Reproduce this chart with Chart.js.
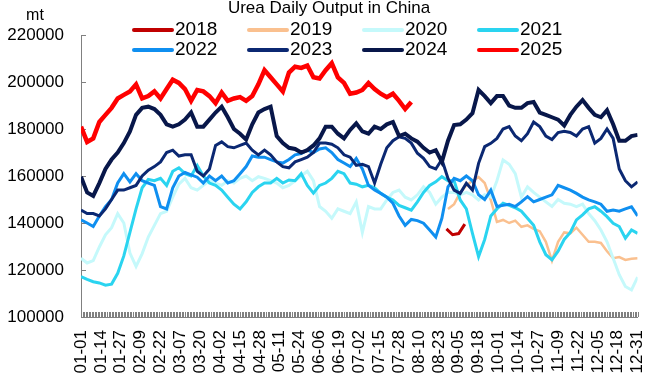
<!DOCTYPE html>
<html>
<head>
<meta charset="utf-8">
<title>Urea Daily Output in China</title>
<script src="https://cdn.jsdelivr.net/npm/chart.js@4.4.1/dist/chart.umd.min.js"></script>
<style>
  html, body { margin: 0; padding: 0; background: #fff; }
</style>
</head>
<body>
<canvas id="myChart" width="671" height="384"></canvas>
<script>
// ticks
const xTickLabels = ['01-01', '01-14', '01-27', '02-09', '02-22', '03-07', '03-20', '04-02', '04-15', '04-28',
  '05-11', '05-24', '06-06', '06-19', '07-02', '07-15', '07-28', '08-10', '08-23', '09-05', '09-18',
  '10-01', '10-14', '10-27', '11-09', '11-22', '12-05', '12-18', '12-31'];
const tickEvery = 13;   // days between x labels
const yTicks = [100000, 120000, 140000, 160000, 180000, 200000, 220000];
const unit = 'mt';

// series: one value every 4 days, starting at startDay (day 0 = 01-01)
const years = ['2018', '2019', '2020', '2021', '2022', '2023', '2024', '2025'];
const stepDays = 4;
const startDays = [239, 240, 0, 0, 0, 0, 0, 0];

const output2018 = [137500, 135000, 135500, 139500];

const output2019 = [146000, 148000, 153000, 156000, 158000, 159500, 157000, 149800,
  140500, 141300, 140000, 141000, 138400, 139000, 137500, 136500,
  132000, 124000, 132000, 136000, 135600, 138000, 135000, 132000,
  132000, 131500, 128000, 125000, 125500, 124300, 124800, 125000];

const output2020 = [125000, 123000, 124000, 129800, 135000, 138000, 144000, 140000, 127200, 121500,
  127000, 134000, 139000, 144000, 145000, 151000, 156500, 159000, 155000, 154000,
  156000, 158000, 157000, 156000, 158000, 157000, 159000, 160000, 158000, 159700,
  159000, 158000, 157000, 155000, 156000, 158000, 160000, 162000, 158000, 147000,
  145000, 142000, 146000, 145000, 144000, 149000, 136000, 147000, 146000, 146000,
  149800, 153000, 154000, 151000, 149800, 152000, 155400, 153000, 148000, 151000,
  153000, 153000, 152000, 153000, 152000, 149800, 152000, 151000, 158000, 166800,
  165000, 161000, 151000, 155400, 153000, 151000, 149000, 147000, 150000, 148400,
  148000, 147000, 148000, 144000, 141000, 137000, 132000, 125000, 118000, 113000,
  111500, 117000];

const output2021 = [117200, 116000, 115000, 114500, 113500, 114000, 118600, 126000, 136000, 146000,
  155000, 158500, 158000, 159000, 156000, 162000, 163500, 161000, 160000, 164500,
  160000, 157000, 156000, 154000, 151000, 148000, 146000, 149000, 153000, 155400,
  157000, 157000, 159000, 157000, 158300, 158000, 161000, 156000, 152700, 156000,
  157000, 159000, 162000, 161000, 157000, 156500, 155400, 156000, 155000, 152600,
  151000, 149800, 147500, 146500, 145500, 149000, 153000, 156000, 157500, 159700,
  158000, 158000, 149800, 146000, 135600, 125700, 133000, 143000, 146000, 148400,
  147500, 146500, 145000, 142000, 139000, 132000, 126500, 124300, 128000, 133000,
  136000, 141300, 143500, 146000, 146900, 145000, 142700, 139900, 138500, 133500,
  137000, 135600];

const output2022 = [141300, 140000, 138500, 143000, 147000, 150000, 157000, 161000, 157500, 161000,
  158000, 157000, 156000, 147000, 146000, 155000, 160000, 161500, 160500, 159500,
  157000, 160000, 158000, 160000, 157000, 158000, 161000, 164000, 168500, 168000,
  168000, 167000, 166000, 165500, 167000, 169000, 169500, 171000, 170000, 171500,
  172000, 170000, 167000, 165500, 164000, 167500, 163000, 156000, 154000, 152600,
  151000, 148400, 143000, 139000, 141500, 141000, 139900, 137000, 134000, 142000,
  155400, 159000, 158000, 160000, 158000, 152000, 150000, 154000, 147000, 147500,
  148000, 147000, 149000, 151200, 149000, 150000, 151000, 152000, 156000, 155000,
  154000, 152600, 151000, 149800, 149000, 148000, 145000, 145500, 145000, 146000,
  146900, 143000];

const output2023 = [145500, 144000, 144000, 143000, 146000, 150000, 154000, 154000, 155000, 156000,
  160000, 162500, 164000, 166000, 170000, 171000, 168500, 169000, 169000, 162000,
  160000, 163000, 173000, 174500, 172500, 172000, 173000, 174000, 171000, 169000,
  171000, 169000, 166000, 164000, 163500, 166000, 167000, 168000, 170000, 174000,
  174000, 173500, 172000, 169000, 168000, 164500, 165000, 164000, 157000, 165000,
  172000, 175000, 176700, 176000, 174000, 169700, 167500, 164000, 163000, 167000,
  159000, 154000, 152600, 156900, 154000, 165400, 172500, 173900, 176000, 180000,
  181000, 177000, 175000, 178000, 183000, 181000, 177000, 175500, 178500, 179000,
  178500, 177000, 180000, 181000, 174000, 176000, 180000, 176000, 163000, 158000,
  155400, 157500];

const output2024 = [159700, 153000, 151500, 157000, 163000, 167000, 170000, 174000, 179000, 186000,
  189000, 189500, 188500, 186000, 182000, 181000, 182000, 184000, 187000, 181000,
  181000, 184000, 187000, 189500, 185000, 180000, 178000, 175500, 182000, 187000,
  188500, 189500, 177000, 174000, 172000, 171500, 170000, 171000, 173000, 176000,
  181000, 181000, 178000, 176000, 179600, 182400, 179000, 178000, 181000, 180000,
  182000, 183000, 177000, 178000, 176000, 174600, 172000, 170000, 171000, 166000,
  175000, 181700, 182000, 184000, 186700, 196600, 194000, 191000, 194000, 194000,
  190000, 189000, 189000, 191000, 191500, 187000, 186000, 185000, 184000, 181500,
  186000, 189500, 192300, 189000, 186000, 185000, 188000, 182000, 175000, 175000,
  177000, 177500];

const output2025 = [181000, 174500, 176000, 183000, 186000, 189000, 193000, 194500, 196000, 199000,
  193000, 194000, 196000, 193000, 197000, 201000, 199600, 197000, 192000, 196600,
  196000, 194000, 191000, 195500, 192000, 193000, 193600, 192000, 194000, 199000,
  205000, 202000, 199000, 196000, 204000, 206500, 206000, 207000, 202000, 201500,
  205000, 208000, 202000, 199600, 195000, 195500, 196600, 199600, 197000, 195000,
  193500, 195000, 192000, 188500, 191500];

const seriesValues = [output2018, output2019, output2020, output2021, output2022, output2023, output2024, output2025];
const colors = ['#c00000', '#fac08f', '#c5f9fb', '#2ad4f0', '#0f8ff0', '#0b2872', '#08174a', '#ff0000'];
const widths = [3, 2.5, 3, 3, 3, 3, 4, 4.5];

const fontFamily = '"Liberation Sans", Arial, sans-serif';
Chart.defaults.font.family = fontFamily;
Chart.defaults.color = '#000';

// legend in 4 columns + unit label
const gridLegend = {
  id: 'gridLegend',
  afterDraw(chart) {
    const ctx = chart.ctx;
    ctx.save();
    ctx.font = '19px ' + fontFamily;
    ctx.textBaseline = 'middle';
    ctx.textAlign = 'left';
    chart.data.datasets.forEach((ds, i) => {
      const x = 132 + (i % 4) * 115;
      const y = 30 + Math.floor(i / 4) * 20;
      ctx.strokeStyle = ds.borderColor;
      ctx.lineWidth = 4;
      ctx.lineCap = 'round';
      ctx.beginPath();
      ctx.moveTo(x + 2, y);
      ctx.lineTo(x + 40, y);
      ctx.stroke();
      ctx.fillStyle = '#000';
      ctx.fillText(ds.label, x + 43, y);
    });
    ctx.font = '16px ' + fontFamily;
    ctx.textAlign = 'center';
    ctx.textBaseline = 'alphabetic';
    ctx.fillText(unit, 35, 20);
    ctx.restore();
  }
};

// small inside tick marks like the original axes
const innerTicks = {
  id: 'innerTicks',
  beforeDatasetsDraw(chart) {
    const {ctx, scales: {x, y}} = chart;
    ctx.save();
    ctx.strokeStyle = '#808080';
    ctx.lineWidth = 1;
    ctx.beginPath();
    for (let d = x.min; d <= x.max; d++) {
      const px = Math.round(x.getPixelForValue(d)) + 0.5;
      ctx.moveTo(px, y.bottom);
      ctx.lineTo(px, y.bottom - 5);
    }
    y.ticks.forEach(t => {
      const py = Math.round(y.getPixelForValue(t.value)) + 0.5;
      ctx.moveTo(x.left, py);
      ctx.lineTo(x.left + 5, py);
    });
    ctx.stroke();
    ctx.restore();
  }
};

const ctx = document.getElementById('myChart');

new Chart(ctx, {
  type: 'line',
  data: {
    datasets: years.map((yr, i) => ({
      label: yr,
      data: seriesValues[i].map((v, k) => ({ x: startDays[i] + k * stepDays, y: v })),
      borderColor: colors[i],
      backgroundColor: colors[i],
      borderWidth: widths[i],
      pointRadius: 0,
      tension: 0,
      fill: false,
      order: years.length - i
    }))
  },
  options: {
    responsive: false,
    animation: false,
    events: [],
    layout: { padding: { left: 0, right: 13, top: 0, bottom: 0 } },
    plugins: {
      legend: { display: false },
      tooltip: { enabled: false },
      title: {
        display: true,
        text: 'Urea Daily Output in China',
        color: '#000',
        font: { size: 17, weight: 'normal', lineHeight: 1 },
        padding: { top: 0, bottom: 18 }
      }
    },
    scales: {
      x: {
        type: 'linear',
        min: 0,
        max: (xTickLabels.length - 1) * tickEvery,
        afterBuildTicks: s => { s.ticks = xTickLabels.map((_, i) => ({ value: i * tickEvery })); },
        afterFit: s => { s.height = 67; },
        grid: { display: false, drawTicks: false },
        border: { display: true, color: '#808080', width: 1 },
        ticks: {
          autoSkip: false,
          maxRotation: 90,
          minRotation: 90,
          padding: 13,
          color: '#000',
          font: { size: 17 },
          callback: (v, i) => xTickLabels[i]
        }
      },
      y: {
        min: yTicks[0],
        max: yTicks[yTicks.length - 1],
        afterBuildTicks: s => { s.ticks = yTicks.map(v => ({ value: v })); },
        afterFit: s => { s.width = 81; },
        grid: { display: false, drawTicks: false },
        border: { display: true, color: '#808080', width: 1 },
        ticks: {
          padding: 17,
          color: '#000',
          font: { size: 17 },
          callback: v => String(v)
        }
      }
    }
  },
  plugins: [innerTicks, gridLegend]
});
</script>
</body>
</html>
